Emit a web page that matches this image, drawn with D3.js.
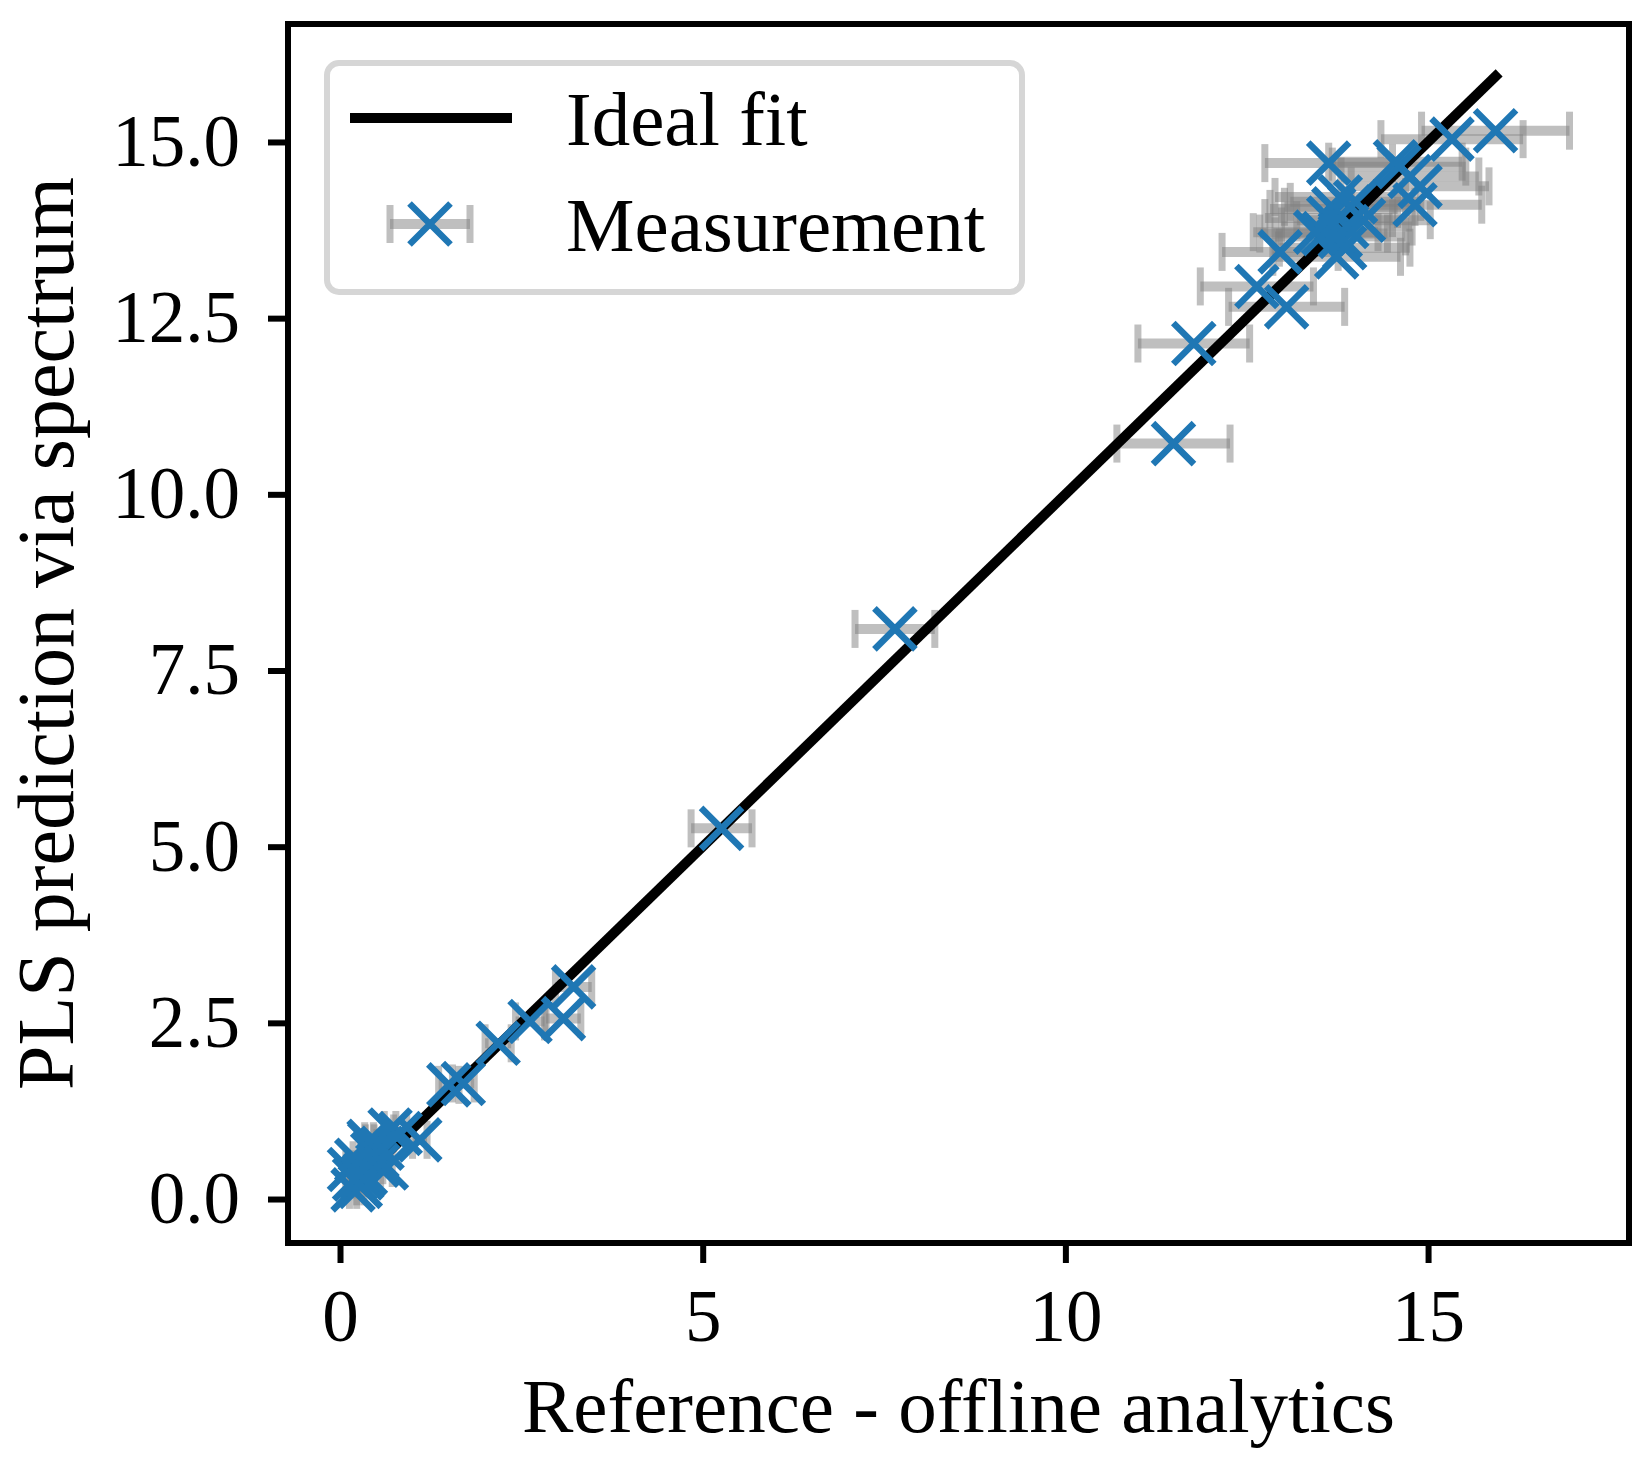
<!DOCTYPE html>
<html>
<head>
<meta charset="utf-8">
<script src="https://cdn.jsdelivr.net/npm/d3@7"></script>
<style>
  html, body { margin: 0; padding: 0; background: #fff; }
  svg { display: block; }
  text { font-family: "Liberation Serif", "DejaVu Serif", serif; fill: #000; }
</style>
</head>
<body>
<svg id="chart" width="1644" height="1466"></svg>
<script>
// ---- data ----
const reference = [
  15.93, 15.33, 14.55, 14.60, 13.63, 14.75, 14.89, 14.82,
  13.79, 13.92, 14.11, 13.63, 13.56, 13.79, 13.74, 13.85,
  13.70, 13.88, 13.45, 14.00, 12.96, 12.64, 13.05, 11.77,
  11.49, 7.65, 5.26, 3.22, 3.08, 2.62, 2.18, 1.50, 1.70,
  1.10, 0.83, 0.69, 0.41, 0.51, 0.23, 0.18, 0.13, 0.28,
  0.30, 0.35, 0.45, 0.40, 0.52, 0.58, 0.64, 0.20
];
const prediction = [
  15.16, 15.04, 14.72, 14.65, 14.70, 14.51, 14.37, 14.11,
  14.22, 14.08, 13.89, 13.92, 13.70, 13.66, 13.37, 13.50,
  14.05, 13.80, 13.72, 14.15, 13.44, 12.95, 12.66, 12.14,
  10.72, 8.09, 5.26, 3.01, 2.56, 2.52, 2.21, 1.62, 1.64,
  0.84, 0.93, 0.98, 0.79, 0.60, 0.55, 0.13, 0.42, 0.18,
  0.30, 0.36, 0.64, 0.82, 0.48, 0.72, 0.44, 0.28
];
const referenceError = [
  1.02, 0.98, 0.92, 0.92, 0.88, 0.95, 0.95, 0.92,
  0.90, 0.90, 0.92, 0.88, 0.88, 0.90, 0.88, 0.90,
  0.88, 0.90, 0.86, 0.90, 0.80, 0.78, 0.80, 0.77,
  0.78, 0.55, 0.42, 0.25, 0.24, 0.20, 0.18, 0.14, 0.15,
  0.10, 0.09, 0.08, 0.06, 0.07, 0.05, 0.05, 0.05, 0.05,
  0.05, 0.06, 0.06, 0.06, 0.07, 0.07, 0.08, 0.05
];
const xTicks = [0, 5, 10, 15];
const yTicks = [0.0, 2.5, 5.0, 7.5, 10.0, 12.5, 15.0];
const legendLabels = ["Ideal fit", "Measurement"];
const xLabel = "Reference - offline analytics";
const yLabel = "PLS prediction via spectrum";

(function () {
// ---- layout ----
const svg = d3.select("#chart");
const pL = 288, pR = 1629, pT = 24, pB = 1243;
const x = d3.scaleLinear().domain([-0.717, 17.77]).range([pL, pR]);
const y = d3.scaleLinear().domain([-0.624, 16.674]).range([pB, pT]);

const points = reference.map((r, i) => ({ r, p: prediction[i], e: referenceError[i] }));

const blue = "#1f77b4";
const tickFont = 73, labelFont = 77;

// error bars
const eb = svg.append("g");
points.forEach(d => {
  const g = eb.append("g");
  g.append("line")
    .attr("x1", x(d.r - d.e)).attr("x2", x(d.r + d.e))
    .attr("y1", y(d.p)).attr("y2", y(d.p))
    .attr("stroke", "#808080").attr("stroke-opacity", 0.5).attr("stroke-width", 10);
  [d.r - d.e, d.r + d.e].forEach(v => {
    g.append("line")
      .attr("x1", x(v)).attr("x2", x(v))
      .attr("y1", y(d.p) - 19).attr("y2", y(d.p) + 19)
      .attr("stroke", "#808080").attr("stroke-opacity", 0.5).attr("stroke-width", 7);
  });
});

// ideal fit line
const ext = d3.extent(reference);
svg.append("line")
  .attr("x1", x(ext[0])).attr("y1", y(ext[0]))
  .attr("x2", x(ext[1])).attr("y2", y(ext[1]))
  .attr("stroke", "#000").attr("stroke-width", 10).attr("stroke-linecap", "square");

// markers
const ms = 20.5;
const xPath = (cx, cy) => `M${cx - ms},${cy - ms}L${cx + ms},${cy + ms}M${cx - ms},${cy + ms}L${cx + ms},${cy - ms}`;
svg.append("g").selectAll("path").data(points).join("path")
  .attr("d", d => xPath(x(d.r), y(d.p)))
  .attr("stroke", blue).attr("stroke-width", 6.5).attr("fill", "none");

// axes
const xAxis = d3.axisBottom(x).tickValues(xTicks).tickFormat(d3.format("d")).tickSize(20).tickPadding(26);
const yAxis = d3.axisLeft(y).tickValues(yTicks).tickFormat(d3.format(".1f")).tickSize(20).tickPadding(28);
const gx = svg.append("g").attr("transform", `translate(0,${pB})`).call(xAxis);
const gy = svg.append("g").attr("transform", `translate(${pL},0)`).call(yAxis);
[gx, gy].forEach(g => {
  g.select(".domain").remove();
  g.selectAll(".tick line").attr("stroke", "#000").attr("stroke-width", 6);
  g.selectAll(".tick text").attr("font-size", tickFont).attr("font-family", "Liberation Serif").attr("fill", "#000");
});

// frame
svg.append("rect")
  .attr("x", pL).attr("y", pT).attr("width", pR - pL).attr("height", pB - pT)
  .attr("fill", "none").attr("stroke", "#000").attr("stroke-width", 6);

// axis labels
svg.append("text").attr("x", (pL + pR) / 2).attr("y", 1432)
  .attr("text-anchor", "middle").attr("font-size", labelFont).text(xLabel);
svg.append("text").attr("transform", `translate(73,${(pT + pB) / 2}) rotate(-90)`)
  .attr("text-anchor", "middle").attr("font-size", 80).text(yLabel);

// legend
const lg = svg.append("g");
lg.append("rect").attr("x", 327).attr("y", 63).attr("width", 695).attr("height", 229)
  .attr("rx", 12).attr("fill", "#fff").attr("fill-opacity", 0.8)
  .attr("stroke", "#d6d6d6").attr("stroke-width", 6);
lg.append("line").attr("x1", 350).attr("x2", 512).attr("y1", 118).attr("y2", 118)
  .attr("stroke", "#000").attr("stroke-width", 10);
lg.append("line").attr("x1", 390).attr("x2", 470).attr("y1", 224).attr("y2", 224)
  .attr("stroke", "#808080").attr("stroke-opacity", 0.5).attr("stroke-width", 10);
[390, 470].forEach(v => lg.append("line").attr("x1", v).attr("x2", v).attr("y1", 205).attr("y2", 243)
  .attr("stroke", "#808080").attr("stroke-opacity", 0.5).attr("stroke-width", 7));
lg.append("path").attr("d", xPath(430, 224)).attr("stroke", blue).attr("stroke-width", 6.5).attr("fill", "none");
lg.append("text").attr("x", 566).attr("y", 145).attr("font-size", labelFont).text(legendLabels[0]);
lg.append("text").attr("x", 566).attr("y", 251).attr("font-size", labelFont).text(legendLabels[1]);
})();
</script>
</body>
</html>
